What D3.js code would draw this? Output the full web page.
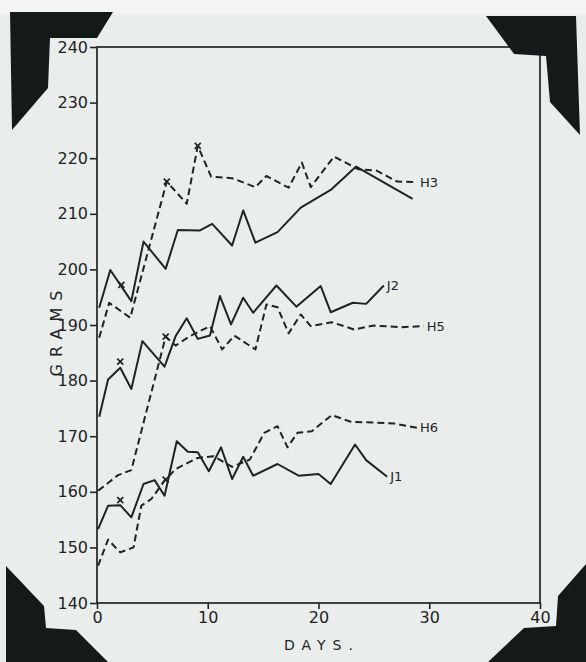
<!DOCTYPE html>
<html>
<head>
<meta charset="utf-8">
<script src="https://cdn.jsdelivr.net/npm/d3@7"></script>
<style>
  body { margin: 0; background: #e9eeec; }
  svg { display: block; }
</style>
</head>
<body>
<div id="chart"></div>
<script>
// values (days, grams)
var yTicks = [140, 150, 160, 170, 180, 190, 200, 210, 220, 230, 240];
var xTicks = [0, 10, 20, 30, 40];

var topDays  = [0.2, 1.2, 3.1, 4.2, 6.2, 7.3, 9.3, 10.4, 12.2, 13.2, 14.3, 16.3, 18.4, 21.1, 23.4, 28.5];
var topGrams = [193.1, 199.9, 194.3, 205.0, 200.1, 207.1, 207.0, 208.2, 204.3, 210.6, 204.8, 206.7, 211.1, 214.3, 218.5, 212.7];

var h3Days  = [0.2, 1.1, 3.0, 6.3, 8.1, 9.1, 10.3, 12.2, 14.3, 15.3, 17.3, 18.5, 19.3, 21.4, 23.6, 25.2, 27.1, 28.9];
var h3Grams = [187.7, 194.0, 191.3, 215.8, 211.8, 222.2, 216.7, 216.4, 214.8, 216.8, 214.7, 219.2, 214.8, 220.3, 218.0, 217.8, 215.8, 215.7];

var j2Days  = [0.2, 1.0, 2.1, 3.1, 4.1, 6.1, 7.1, 8.1, 9.1, 10.2, 11.1, 12.1, 13.2, 14.1, 16.2, 18.0, 20.2, 21.1, 23.1, 24.3, 25.9];
var j2Grams = [173.5, 180.2, 182.3, 178.5, 187.1, 182.5, 188.0, 191.2, 187.5, 188.1, 195.2, 190.1, 194.9, 192.2, 197.1, 193.3, 197.0, 192.3, 194.0, 193.8, 197.1];

var h5Days  = [0.1, 1.9, 3.1, 6.2, 7.1, 8.4, 10.2, 11.3, 12.4, 14.3, 15.3, 16.3, 17.3, 18.4, 19.3, 21.2, 23.2, 25.0, 27.4, 29.5];
var h5Grams = [160.2, 163.0, 163.9, 187.9, 186.3, 188.0, 189.8, 185.6, 188.1, 185.6, 193.7, 193.2, 188.5, 191.9, 189.8, 190.5, 189.2, 189.9, 189.6, 189.8];

var h6Days  = [0.1, 1.0, 2.1, 3.3, 4.0, 4.9, 6.1, 7.1, 9.1, 10.5, 12.2, 13.8, 15.1, 16.3, 17.2, 18.1, 19.4, 21.2, 22.9, 26.8, 28.9];
var h6Grams = [146.7, 151.4, 149.1, 150.0, 157.5, 158.7, 162.0, 164.1, 166.1, 166.4, 164.5, 165.8, 170.6, 171.8, 168.0, 170.6, 170.9, 173.8, 172.6, 172.3, 171.5];

var j1Days  = [0.1, 1.0, 2.1, 3.1, 4.2, 5.2, 6.1, 7.2, 8.2, 9.1, 10.1, 11.2, 12.2, 13.2, 14.1, 16.3, 18.2, 20.0, 21.1, 23.3, 24.3, 26.2];
var j1Grams = [153.3, 157.5, 157.6, 155.4, 161.4, 162.1, 159.3, 169.1, 167.2, 167.1, 163.7, 168.0, 162.3, 166.3, 162.9, 165.0, 162.9, 163.2, 161.4, 168.5, 165.7, 162.7];

// the little crosses
var markDays  = [2.2, 6.3, 9.1, 2.1, 6.2, 2.1, 6.2];
var markGrams = [197.2, 215.8, 222.2, 183.4, 187.9, 158.5, 162.2];

var series = [
  {name: "",   days: topDays, grams: topGrams, dashed: false},
  {name: "H3", days: h3Days,  grams: h3Grams,  dashed: true},
  {name: "J2", days: j2Days,  grams: j2Grams,  dashed: false},
  {name: "H5", days: h5Days,  grams: h5Grams,  dashed: true},
  {name: "H6", days: h6Days,  grams: h6Grams,  dashed: true},
  {name: "J1", days: j1Days,  grams: j1Grams,  dashed: false}
];

var width = 586, height = 662;
var ink = "#1f2323";

var svg = d3.select("#chart").append("svg")
    .attr("width", width)
    .attr("height", height);

svg.append("rect")
    .attr("width", width)
    .attr("height", height)
    .attr("fill", "#e9eeec");
svg.append("rect")
    .attr("width", width)
    .attr("height", 14)
    .attr("fill", "#f3f5f4");

var x = d3.scaleLinear().domain([0, 40]).range([97, 540]);
var y = d3.scaleLinear().domain([140, 240]).range([603, 47]);

// frame
svg.append("rect")
    .attr("x", x(0)).attr("y", y(240))
    .attr("width", x(40) - x(0)).attr("height", y(140) - y(240))
    .attr("fill", "none")
    .attr("stroke", ink)
    .attr("stroke-width", 1.7);

var yAxis = svg.append("g")
    .attr("transform", "translate(" + x(0) + ",0)")
    .call(d3.axisLeft(y).tickValues(yTicks).tickSize(7).tickPadding(2).tickFormat(d3.format("d")));
var xAxis = svg.append("g")
    .attr("transform", "translate(0," + y(140) + ")")
    .call(d3.axisBottom(x).tickValues(xTicks).tickSize(6).tickPadding(3).tickFormat(d3.format("d")));

[yAxis, xAxis].forEach(function(g) {
  g.select(".domain").remove();
  g.selectAll(".tick line").attr("stroke", ink).attr("stroke-width", 1.6);
  g.selectAll(".tick text")
    .attr("fill", ink)
    .style("font-family", "DejaVu Sans, sans-serif")
    .style("font-size", "16px");
});

// axis titles
svg.append("text")
    .attr("transform", "translate(62,330) rotate(-90)")
    .attr("text-anchor", "middle")
    .attr("fill", ink)
    .style("font-family", "DejaVu Sans, sans-serif")
    .style("font-size", "16px")
    .style("letter-spacing", "7px")
    .text("GRAMS");

svg.append("text")
    .attr("x", 322).attr("y", 650)
    .attr("text-anchor", "middle")
    .attr("fill", ink)
    .style("font-family", "DejaVu Sans, sans-serif")
    .style("font-size", "14px")
    .style("letter-spacing", "7px")
    .text("DAYS.");

var line = d3.line()
    .x(function(d) { return x(d[0]); })
    .y(function(d) { return y(d[1]); });

series.forEach(function(s) {
  var pts = s.days.map(function(d, i) { return [d, s.grams[i]]; });
  svg.append("path")
    .attr("d", line(pts))
    .attr("fill", "none")
    .attr("stroke", ink)
    .attr("stroke-width", 2)
    .attr("stroke-linejoin", "round")
    .attr("stroke-dasharray", s.dashed ? "7,4" : null);

  if (s.name) {
    var last = pts[pts.length - 1];
    svg.append("text")
      .attr("x", x(last[0]) + 3)
      .attr("y", y(last[1]))
      .attr("dy", "0.35em")
      .attr("fill", ink)
      .style("font-family", "DejaVu Sans, sans-serif")
      .style("font-size", "13px")
      .text(s.name);
  }
});

// crosses
markDays.forEach(function(d, i) {
  var cx = x(d), cy = y(markGrams[i]);
  svg.append("path")
    .attr("d", "M" + (cx - 3) + "," + (cy - 3) + "L" + (cx + 3) + "," + (cy + 3) +
               "M" + (cx - 3) + "," + (cy + 3) + "L" + (cx + 3) + "," + (cy - 3))
    .attr("stroke", ink)
    .attr("stroke-width", 1.7);
});

// black photo corners
var corners = [
  [[10, 12], [113, 12], [97, 38], [50, 38], [48, 88], [12, 130]],
  [[486, 16], [576, 16], [580, 135], [550, 102], [546, 56], [514, 54]],
  [[6, 566], [44, 606], [46, 628], [76, 630], [108, 662], [6, 662]],
  [[586, 564], [586, 662], [488, 662], [524, 628], [556, 626], [558, 596]]
];
svg.selectAll("path.corner")
  .data(corners)
  .enter().append("path")
    .attr("class", "corner")
    .attr("d", function(c) { return d3.line()(c) + "Z"; })
    .attr("fill", "#141a19");
</script>
</body>
</html>
